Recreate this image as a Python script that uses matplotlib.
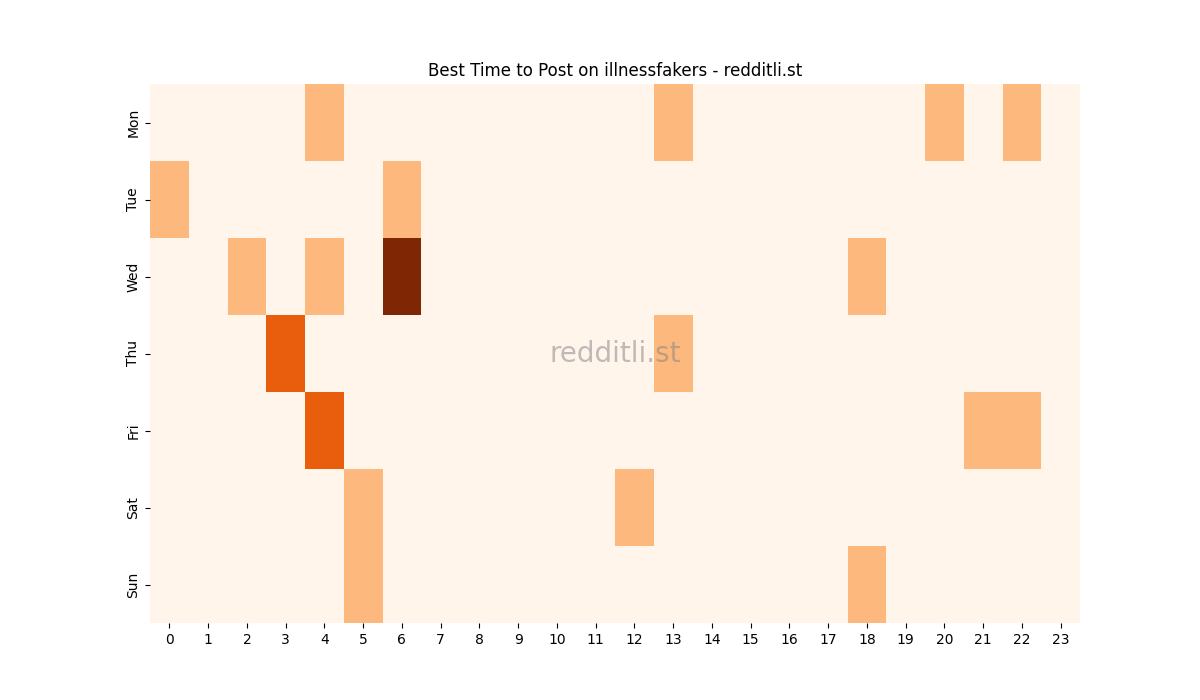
import matplotlib
matplotlib.use("Agg")
import matplotlib.pyplot as plt
import seaborn as sns
import numpy as np

days = ["Mon", "Tue", "Wed", "Thu", "Fri", "Sat", "Sun"]
hours = [str(h) for h in range(24)]
mon = [0,0,0,0,1,0,0,0,0,0,0,0,0,1,0,0,0,0,0,0,1,0,1,0]
tue = [1,0,0,0,0,0,1,0,0,0,0,0,0,0,0,0,0,0,0,0,0,0,0,0]
wed = [0,0,1,0,1,0,3,0,0,0,0,0,0,0,0,0,0,0,1,0,0,0,0,0]
thu = [0,0,0,2,0,0,0,0,0,0,0,0,0,1,0,0,0,0,0,0,0,0,0,0]
fri = [0,0,0,0,2,0,0,0,0,0,0,0,0,0,0,0,0,0,0,0,0,1,1,0]
sat = [0,0,0,0,0,1,0,0,0,0,0,0,1,0,0,0,0,0,0,0,0,0,0,0]
sun = [0,0,0,0,0,1,0,0,0,0,0,0,0,0,0,0,0,0,1,0,0,0,0,0]
data = np.array([mon, tue, wed, thu, fri, sat, sun])

fig = plt.figure(figsize=(12, 7), dpi=100)
ax = fig.add_subplot(111)
sns.heatmap(data, cmap="Oranges", cbar=False, ax=ax, xticklabels=hours, yticklabels=days)
ax.set_yticklabels(days, rotation=90, va="center")
ax.set_xticklabels(hours, rotation=0)
ax.set_title("Best Time to Post on illnessfakers - redditli.st")
ax.text(0.5, 0.5, "redditli.st", transform=ax.transAxes, ha="center", va="center",
        fontsize=20, color="gray", alpha=0.5)
fig.savefig("out.png")
